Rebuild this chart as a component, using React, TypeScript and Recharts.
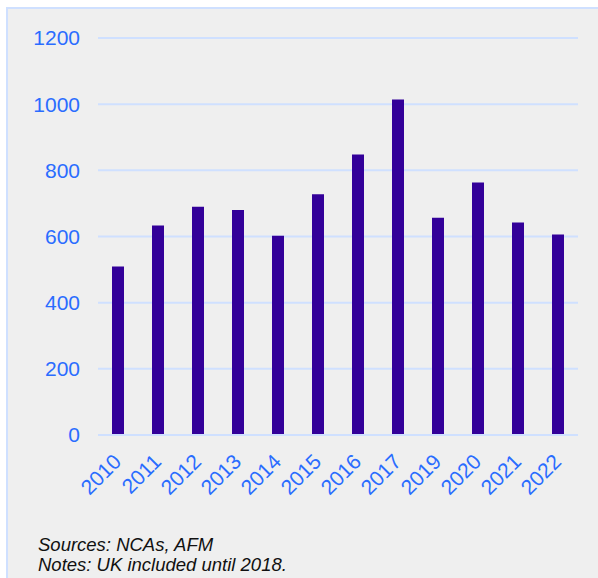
import React from 'react';
import { BarChart, Bar, XAxis, YAxis, CartesianGrid } from 'recharts';

const years = ['2010', '2011', '2012', '2013', '2014', '2015', '2016', '2017', '2019', '2020', '2021', '2022'];
const counts = [509, 633, 690, 680, 602, 728, 848, 1014, 657, 763, 642, 606];
const yTicks = [0, 200, 400, 600, 800, 1000, 1200];

const data = years.map((year, i) => ({ year, count: counts[i] }));

const BLUE = '#2a6cff';

const XTick = ({ x, y, payload }: any) => {
  const tx = x + 4.5;
  const ty = y + 28;
  return (
    <text
      x={tx}
      y={ty}
      transform={`rotate(-45 ${tx} ${ty})`}
      textAnchor="end"
      fill={BLUE}
      fontSize={21}
      fontFamily="Arial, 'Liberation Sans', sans-serif"
    >
      {payload.value}
    </text>
  );
};

const App: React.FC = () => {
  return (
    <div style={{ position: 'absolute', left: 0, top: 0, width: 598, height: 578, background: '#fff' }}>
      <div
        style={{
          position: 'absolute',
          left: 6,
          top: 7,
          width: 592,
          height: 571,
          boxSizing: 'border-box',
          background: '#efefef',
          borderLeft: '2px solid #cfe0ff',
          borderTop: '2px solid #cfe0ff',
        }}
      />
      <div style={{ position: 'absolute', left: 0, top: 0 }}>
        <BarChart
          width={598}
          height={520}
          data={data}
          margin={{ top: 38, right: 20, left: 0, bottom: 0 }}
          barCategoryGap={0}
        >
          <CartesianGrid vertical={false} stroke="#cfe0ff" strokeWidth={2} />
          <XAxis
            dataKey="year"
            height={85}
            axisLine={{ stroke: '#cfe0ff', strokeWidth: 2 }}
            tickLine={false}
            tickSize={0}
            tickMargin={0}
            interval={0}
            tick={<XTick />}
          />
          <YAxis
            width={98}
            domain={[0, 1200]}
            ticks={yTicks}
            axisLine={false}
            tickLine={false}
            tickSize={0}
            tickMargin={18}
            tick={{ fill: BLUE, fontSize: 21, fontFamily: "Arial, 'Liberation Sans', sans-serif" }}
          />
          <Bar dataKey="count" fill="#330099" barSize={12} isAnimationActive={false} />
        </BarChart>
      </div>
      <div
        style={{
          position: 'absolute',
          left: 38,
          top: 535,
          fontFamily: "Arial, 'Liberation Sans', sans-serif",
          fontStyle: 'italic',
          fontSize: 18.5,
          lineHeight: '20px',
          color: '#111',
        }}
      >
        <div>Sources: NCAs, AFM</div>
        <div>Notes: UK included until 2018.</div>
      </div>
    </div>
  );
};

export default App;
